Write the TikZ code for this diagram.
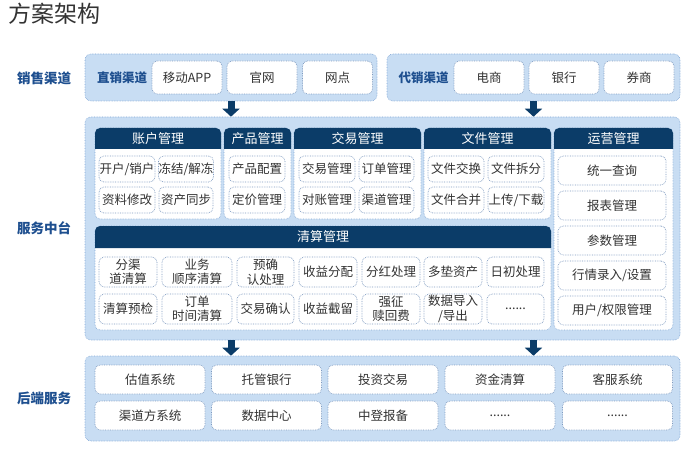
\documentclass[tikz,border=0pt]{standalone}
\usepackage{fontspec}
\setmainfont{Noto Sans CJK SC}
\usetikzlibrary{arrows.meta}
\definecolor{navy}{HTML}{0B3C68}
\definecolor{bandblue}{HTML}{C8DDF3}
\definecolor{bandline}{HTML}{7FA5D4}
\definecolor{cellline}{HTML}{7E9AC0}
\definecolor{labelblue}{HTML}{1E4F8F}
\definecolor{txt}{HTML}{333333}
\newcommand\moredots{......}
\tikzset{
  band/.style={draw=bandline, densely dotted, line width=0.6pt, fill=bandblue, rounded corners=6pt, inner sep=0pt},
  panel/.style={draw=bandline, densely dotted, line width=0.6pt, fill=white, rounded corners=5pt},
  cell/.style={draw=cellline, densely dotted, line width=0.7pt, fill=white, rounded corners=5pt, inner sep=0pt,
    text=txt, align=center, font=\fontsize{12.5}{14.5}\selectfont},
  headtext/.style={text=white, font=\fontsize{13}{13}\selectfont},
  side/.style={text=labelblue, font=\bfseries\fontsize{13.5}{13.5}\selectfont},
  chan/.style={text=labelblue, font=\bfseries\fontsize{12.5}{12.5}\selectfont},
  flow/.style={draw=navy, solid, line width=7pt, -{Triangle[width=17pt,length=8pt]}}
}
\begin{document}
\begin{tikzpicture}[x=1pt,y=-1pt]
    \useasboundingbox (0,0) rectangle (693,449);
    \node [anchor=west, text=txt, font=\fontsize{23}{23}\selectfont] (title) at (5,14) {方案架构};
    \node [side] (side1) at (44,78) {销售渠道};
    \node [side] (side2) at (44,228) {服务中台};
    \node [side] (side3) at (44,398) {后端服务};
    \node [band, minimum width=292pt, minimum height=47pt] (b1a) at (231,77.5) {};
    \node [band, minimum width=293pt, minimum height=47pt] (b1b) at (533.5,77.5) {};
    \node [band, minimum width=595pt, minimum height=223pt] (b2) at (382.5,228.5) {};
    \node [band, minimum width=595pt, minimum height=85pt] (b3) at (382.5,398.5) {};
    \draw [flow] (b1a.south) -- (b1a.south |- b2.north);
    \draw [flow] (b1b.south) -- (b1b.south |- b2.north);
    \draw [flow] (b1a.south |- b2.south) -- (b1a.south |- b3.north);
    \draw [flow] (b1b.south |- b2.south) -- (b1b.south |- b3.north);
    \node [chan] (zx) at (122,78) {直销渠道};
    \node [chan] (dx) at (423.5,78) {代销渠道};
    \foreach \x/\t [count=\i] in {187/移动APP,262/官网,337.5/网点,489/电商,564/银行,639/券商}
    \node [cell, minimum width=70pt, minimum height=33pt] (ch\i) at (\x,77.5) {\t};
    \foreach \xa/\xb/\ya/\yb in {95/221/128/219,224/291/128/219,294/421/128/219,424/551/128/219,554/673/128/330,95/551/226/330}
    \draw [panel] (\xa,\ya) rectangle (\xb,\yb);
    \foreach \xa/\xb/\ya/\yb/\t in {95/221/128/149/账户管理,224/291/128/149/产品管理,294/421/128/149/交易管理,424/551/128/149/文件管理,554/673/128/149/运营管理,95/551/226/248/清算管理}
    {
    \fill [navy] (\xa,\yb) [rounded corners=5pt] -- (\xa,\ya) -- (\xb,\ya) [sharp corners] -- (\xb,\yb) -- cycle;
    \node [headtext] at ({(\xa+\xb)/2},{(\ya+\yb)/2}) {\t};
    }
    \foreach \x/\y/\w/\t [count=\i] in {127/169/56/{开户/销户},186/169/54/{冻结/解冻},127/200/56/资料修改,186/200/54/资产同步,
      257/169/56/产品配置,257/200/56/定价管理,
      327/169/56/交易管理,386.5/169/55/订单管理,327/200/56/对账管理,386.5/200/55/渠道管理,
      456/169/56/文件交换,516/169/56/文件拆分,456/200/56/文件合并,516/200/56/{上传/下载}}
    \node [cell, minimum width=\w pt, minimum height=26pt] (m\i) at (\x,\y) {\t};
    \foreach \y/\t [count=\i] in {170.5/统一查询,205.5/报表管理,240.5/参数管理,275.5/{行情录入/设置},310.5/{用户/权限管理}}
    \node [cell, minimum width=108pt, minimum height=29pt] (yy\i) at (612,\y) {\t};
    \foreach \x/\w/\ta/\tb [count=\i] in {128/58/{分渠\\道清算}/清算预检,197/70/{业务\\顺序清算}/{订单\\时间清算},
      265.5/57/{预确\\认处理}/交易确认,328/58/收益分配/收益截留,391/58/分红处理/{强征\\赎回费},
      453/58/多垫资产/{数据导入\\/导出},515.5/57/日初处理/\moredots}
    {
    \node [cell, minimum width=\w pt, minimum height=30pt] (qa\i) at (\x,272) {\ta};
    \node [cell, minimum width=\w pt, minimum height=30pt] (qb\i) at (\x,309) {\tb};
    }
    \foreach \x/\ta/\tb [count=\i] in {150/估值系统/渠道方系统,266.5/托管银行/数据中心,383/投资交易/中登报备,500/资金清算/\moredots,617.5/客服系统/\moredots}
    {
    \node [cell, minimum width=110pt, minimum height=29pt] (ha\i) at (\x,379.5) {\ta};
    \node [cell, minimum width=110pt, minimum height=29pt] (hb\i) at (\x,415.5) {\tb};
    }
\end{tikzpicture}
\end{document}
